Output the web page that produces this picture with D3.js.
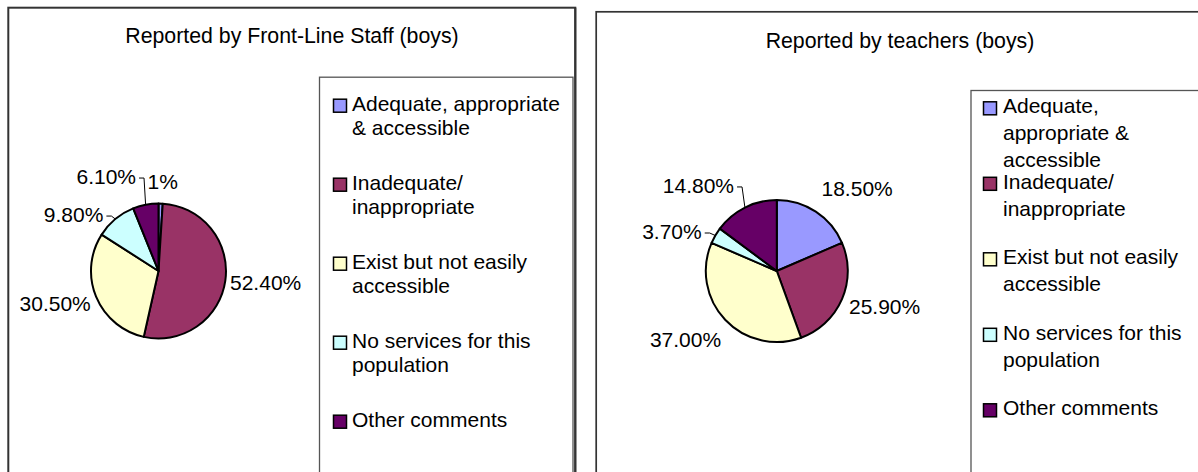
<!DOCTYPE html>
<html>
<head>
<meta charset="utf-8">
<script src="https://cdn.jsdelivr.net/npm/d3@7"></script>
<style>
  html, body { margin: 0; padding: 0; background: #fff; }
  svg { display: block; }
  text { font-family: "Liberation Sans", Arial, sans-serif; fill: #000; }
</style>
</head>
<body>
<svg id="chart" width="1198" height="472"></svg>
<script>
// ---- data ----
const categories = [
  "Adequate, appropriate & accessible",
  "Inadequate/ inappropriate",
  "Exist but not easily accessible",
  "No services for this population",
  "Other comments"
];
const sliceColors = ["#9999FF", "#993366", "#FFFFCC", "#CCFFFF", "#660066"];

const staffTitle = "Reported by Front-Line Staff (boys)";
const staffValues = [1, 52.4, 30.5, 9.8, 6.1];
const staffLabels = ["1%", "52.40%", "30.50%", "9.80%", "6.10%"];
const staffLegendLines = [
  ["Adequate, appropriate", "& accessible"],
  ["Inadequate/", "inappropriate"],
  ["Exist but not easily", "accessible"],
  ["No services for this", "population"],
  ["Other comments"]
];

const teacherTitle = "Reported by teachers (boys)";
const teacherValues = [18.5, 25.9, 37.0, 3.7, 14.8];
const teacherLabels = ["18.50%", "25.90%", "37.00%", "3.70%", "14.80%"];
const teacherLegendLines = [
  ["Adequate,", "appropriate &", "accessible"],
  ["Inadequate/", "inappropriate"],
  ["Exist but not easily", "accessible"],
  ["No services for this", "population"],
  ["Other comments"]
];

// ---- layout ----
const panels = [
  {
    title: staffTitle, values: staffValues, labels: staffLabels, legendLines: staffLegendLines,
    frame: { x: 8.3, y: 7.7, w: 567, h: 490, stroke: 2 },
    titlePos: { x: 292, y: 42.7 },
    pie: { cx: 158.5, cy: 271, r: 67.5 },
    // label offset from the slice's outer edge point: [dx, dy(baseline), anchor, leader]
    labelPlace: [
      [2, -14.5, "middle", false],
      [4.7, 9.5, "start", false],
      [-5.3, 14.8, "end", false],
      [-12, 3, "end", true],
      [-9.6, -20.7, "end", true]
    ],
    legend: { x: 319.5, y: 77.2, w: 253.5, h: 420, first: 110.7, lineH: 24.5, step: 79, swX: 333.5, swSize: 13, textX: 352 }
  },
  {
    title: teacherTitle, values: teacherValues, labels: teacherLabels, legendLines: teacherLegendLines,
    frame: { x: 596.2, y: 11.8, w: 640, h: 490, stroke: 1.7 },
    titlePos: { x: 900, y: 47.7 },
    pie: { cx: 776.8, cy: 271, r: 71 },
    labelPlace: [
      [5.7, -15.7, "start", false],
      [7, 14.9, "start", false],
      [-4, 27.5, "end", false],
      [-13.6, 3.5, "end", true],
      [-10.9, -14.6, "end", true]
    ],
    legend: { x: 971, y: 90.5, w: 260, h: 420, first: 113.3, lineH: 27, step: 75.5, swX: 983.5, swSize: 13, textX: 1003 }
  }
];

const svg = d3.select("#chart");
const FONT = 21;

panels.forEach(p => {
  const g = svg.append("g");

  // outer chart frame
  g.append("rect")
    .attr("x", p.frame.x).attr("y", p.frame.y)
    .attr("width", p.frame.w).attr("height", p.frame.h)
    .attr("fill", "#fff").attr("stroke", "#333").attr("stroke-width", p.frame.stroke);

  // title
  g.append("text")
    .attr("x", p.titlePos.x).attr("y", p.titlePos.y)
    .attr("text-anchor", "middle")
    .style("font-size", "21.3px")
    .text(p.title);

  // pie slices
  const color = d3.scaleOrdinal().domain(categories).range(sliceColors);
  const arcs = d3.pie().sort(null).value(d => d.value)
    (p.values.map((v, i) => ({ value: v, cat: categories[i], label: p.labels[i] })));
  const arc = d3.arc().innerRadius(0).outerRadius(p.pie.r);

  const pieG = g.append("g").attr("transform", `translate(${p.pie.cx},${p.pie.cy})`);
  pieG.selectAll("path").data(arcs).join("path")
    .attr("d", arc)
    .attr("fill", d => color(d.data.cat))
    .attr("stroke", "#000").attr("stroke-width", 2).attr("stroke-linejoin", "round");

  // data labels, anchored at each slice's outer edge midpoint
  arcs.forEach((d, i) => {
    const a = (d.startAngle + d.endAngle) / 2;
    const ex = Math.sin(a) * p.pie.r, ey = -Math.cos(a) * p.pie.r;
    const [dx, dy, anchor, leader] = p.labelPlace[i];
    const tx = ex + dx, ty = ey + dy;
    pieG.append("text")
      .attr("x", tx).attr("y", ty)
      .attr("text-anchor", anchor)
      .style("font-size", FONT + "px")
      .text(d.data.label);
    if (leader) {
      const sx = tx + 3, sy = ty - 6;
      pieG.append("path")
        .attr("d", d3.line()([[sx, sy], [sx + 5, sy], [ex, ey]]))
        .attr("fill", "none").attr("stroke", "#000").attr("stroke-width", 1);
    }
  });

  // legend
  const L = p.legend;
  g.append("rect")
    .attr("x", L.x).attr("y", L.y).attr("width", L.w).attr("height", L.h)
    .attr("fill", "#fff").attr("stroke", "#555").attr("stroke-width", 1.3);

  p.legendLines.forEach((lines, i) => {
    const base = L.first + i * L.step;
    g.append("rect")
      .attr("x", L.swX).attr("y", base - L.swSize + 1.5)
      .attr("width", L.swSize).attr("height", L.swSize)
      .attr("fill", color(categories[i]))
      .attr("stroke", "#000").attr("stroke-width", 1.5);
    const t = g.append("text")
      .attr("x", L.textX).attr("y", base)
      .style("font-size", FONT + "px");
    lines.forEach((ln, j) => {
      t.append("tspan").attr("x", L.textX).attr("y", base + j * L.lineH).text(ln);
    });
  });
});

// keep the first panel's right border visible above the second frame
svg.append("line")
  .attr("x1", 575.3).attr("x2", 575.3).attr("y1", 7.7).attr("y2", 472)
  .attr("stroke", "#333").attr("stroke-width", 2);
</script>
</body>
</html>
